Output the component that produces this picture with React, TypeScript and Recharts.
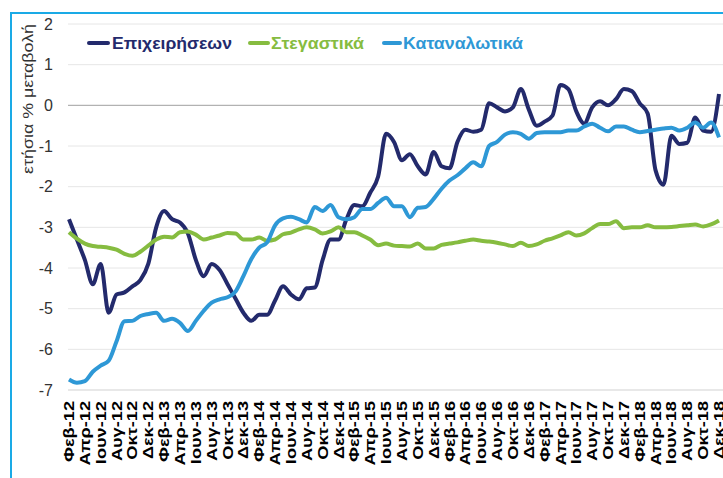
import React from 'react';
import { LineChart, Line, XAxis, YAxis, CartesianGrid, ReferenceLine } from 'recharts';

const MONTHS = ['Ιαν', 'Φεβ', 'Μαρ', 'Απρ', 'Μαϊ', 'Ιουν', 'Ιουλ', 'Αυγ', 'Σεπ', 'Οκτ', 'Νοε', 'Δεκ'];
const YEARS = ['12', '13', '14', '15', '16', '17', '18'];

// Feb-12 .. Dec-18
const categories: string[] = [];
YEARS.forEach((yy, yi) => {
  MONTHS.forEach((m, mi) => {
    if (yi === 0 && mi === 0) return;
    categories.push(`${m}-${yy}`);
  });
});

const businessValues = [
  -2.8, -3.3, -3.8, -4.4, -3.9, -5.1, -4.65, -4.6, -4.45, -4.3,
  -3.9, -3.0, -2.6, -2.8, -2.88, -3.15, -3.8, -4.2, -3.9, -4.05,
  -4.4, -4.75, -5.1, -5.3, -5.15, -5.15, -4.8, -4.45, -4.65, -4.77,
  -4.5, -4.48, -3.8, -3.3, -3.3, -2.8, -2.45, -2.48, -2.15, -1.75,
  -0.7, -0.9, -1.35, -1.2, -1.5, -1.7, -1.15, -1.5, -1.55, -0.9,
  -0.6, -0.65, -0.6, 0.05, -0.05, -0.15, -0.05, 0.4, -0.1, -0.5,
  -0.4, -0.25, 0.5, 0.4, -0.15, -0.45, -0.05, 0.1, 0.0, 0.15,
  0.4, 0.35, 0.05, -0.2, -1.6, -1.95, -0.75, -0.95, -0.92, -0.3,
  -0.62, -0.65, 0.28,
];

const housingValues = [
  -3.12, -3.28, -3.4, -3.46, -3.48, -3.5, -3.55, -3.65, -3.7, -3.6,
  -3.45, -3.3, -3.23, -3.25, -3.12, -3.1, -3.18, -3.3, -3.25, -3.2,
  -3.14, -3.15, -3.3, -3.3, -3.25, -3.33, -3.3, -3.17, -3.13, -3.05,
  -3.0, -3.05, -3.15, -3.1, -3.0, -3.12, -3.12, -3.2, -3.3, -3.44,
  -3.4, -3.45, -3.46, -3.47, -3.4, -3.52, -3.52, -3.43, -3.4, -3.37,
  -3.33, -3.3, -3.33, -3.35, -3.38, -3.42, -3.46, -3.38, -3.46, -3.42,
  -3.33, -3.27, -3.2, -3.12, -3.2, -3.15, -3.02, -2.92, -2.92, -2.85,
  -3.02, -3.0, -3.0, -2.95, -3.0, -3.0, -2.99, -2.97, -2.95, -2.93,
  -2.98, -2.93, -2.83,
];

const consumerValues = [
  -6.74, -6.82, -6.78, -6.55, -6.4, -6.28, -5.8, -5.31, -5.3, -5.18,
  -5.13, -5.1, -5.3, -5.25, -5.35, -5.55, -5.3, -5.05, -4.85, -4.77,
  -4.72, -4.58, -4.2, -3.78, -3.5, -3.37, -2.95, -2.78, -2.74, -2.8,
  -2.88, -2.5, -2.6, -2.45, -2.75, -2.8, -2.75, -2.55, -2.55, -2.4,
  -2.27, -2.48, -2.48, -2.75, -2.52, -2.5, -2.3, -2.05, -1.85, -1.72,
  -1.55, -1.4, -1.5, -1.0, -0.9, -0.72, -0.66, -0.7, -0.82, -0.68,
  -0.66, -0.66, -0.66, -0.62, -0.62, -0.52, -0.45, -0.55, -0.64, -0.52,
  -0.52, -0.6, -0.66, -0.63, -0.6, -0.57, -0.55, -0.62, -0.55, -0.42,
  -0.55, -0.42, -0.79,
];

const yTicks = [-7, -6, -5, -4, -3, -2, -1, 0, 1, 2];

const SERIES = [
  { key: 'business', name: 'Επιχειρήσεων', color: '#232A6C' },
  { key: 'housing', name: 'Στεγαστικά', color: '#86BC40' },
  { key: 'consumer', name: 'Καταναλωτικά', color: '#2E98D6' },
];

const data = categories.map((c, i) => ({
  month: c,
  business: businessValues[i],
  housing: housingValues[i],
  consumer: consumerValues[i],
}));

const FONT = '"Liberation Sans", Arial, sans-serif';

const XTick = (props: any) => {
  const { x, y, payload } = props;
  return (
    <g transform={`translate(${x},${y})`}>
      <text
        transform="rotate(-90) scale(1.3,1)"
        x={0}
        y={0}
        dy="0.36em"
        textAnchor="end"
        fontFamily={FONT}
        fontWeight="bold"
        fontSize={14}
        fill="#000"
      >
        {payload.value}
      </text>
    </g>
  );
};

// legend layout: [lineStart, lineEnd, textStart, textWidth]
const LEGEND_POS = [
  [87, 110, 112, 120],
  [248, 270, 271, 93],
  [382, 402, 403, 120],
];

const LegendBox = () => (
  <svg style={{ position: 'absolute', left: 0, top: 0 }} width={723} height={60}>
    {SERIES.map((s, i) => {
      const [l0, l1, t0, tw] = LEGEND_POS[i];
      return (
        <g key={s.key}>
          <line x1={l0 + 2} x2={l1 - 2} y1={43} y2={43} stroke={s.color} strokeWidth={4} strokeLinecap="round" />
          <text
            x={t0}
            y={49}
            textLength={tw}
            lengthAdjust="spacingAndGlyphs"
            fontFamily={FONT}
            fontWeight="bold"
            fontSize={17}
            fill={s.color}
          >
            {s.name}
          </text>
        </g>
      );
    })}
  </svg>
);

const YLabel = () => (
  <text
    transform="translate(28,99) rotate(-90)"
    x={0}
    y={0}
    dy="0.35em"
    textAnchor="middle"
    textLength={150}
    lengthAdjust="spacingAndGlyphs"
    fontFamily={FONT}
    fontSize={15}
    fill="#333"
  >
    ετήσια % μεταβολή
  </text>
);

export default function App() {
  return (
    <div style={{ position: 'absolute', left: 0, top: 0, width: 723, height: 478, background: '#fff', overflow: 'hidden' }}>
      <div style={{ position: 'absolute', left: 10, top: 12, width: 2, height: 470, background: '#1AAAE6' }} />
      <div style={{ position: 'absolute', left: 10, top: 12, width: 713, height: 2, background: '#1AAAE6' }} />
      <div style={{ position: 'absolute', left: 0, top: 0 }}>
        <LineChart width={723} height={478} data={data} margin={{ top: 24, right: 0, bottom: 0, left: 0 }}>
          <CartesianGrid vertical={false} stroke="#E6E6E6" strokeWidth={1} />
          <XAxis
            dataKey="month"
            interval={1}
            tick={<XTick />}
            tickLine={false}
            tickSize={0}
            tickMargin={11}
            axisLine={{ stroke: '#DDDDDD' }}
            padding={{ left: 1, right: 4 }}
            height={88}
          />
          <YAxis
            domain={[-7, 2]}
            ticks={yTicks}
            interval={0}
            width={68}
            axisLine={false}
            tickLine={false}
            tickSize={0}
            tickMargin={15}
            tick={{ fontFamily: FONT, fontSize: 16, fill: '#333' }}
            label={{ content: () => <YLabel /> }}
          />
          <ReferenceLine y={0} stroke="#A6A6A6" strokeWidth={1} />
          {SERIES.map((s) => (
            <Line
              key={s.key}
              type="monotone"
              dataKey={s.key}
              name={s.name}
              stroke={s.color}
              strokeWidth={4}
              dot={false}
              activeDot={false}
              isAnimationActive={false}
            />
          ))}
        </LineChart>
      </div>
      <LegendBox />
    </div>
  );
}
